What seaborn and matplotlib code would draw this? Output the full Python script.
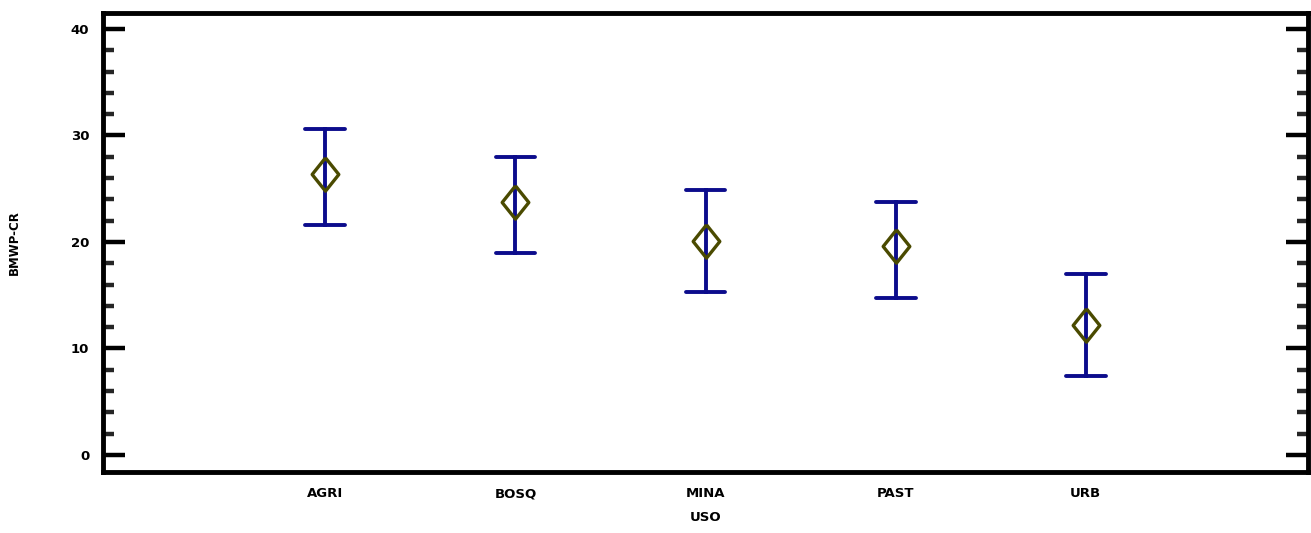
import matplotlib
matplotlib.use("Agg")
import matplotlib.pyplot as plt
import pandas as pd
import seaborn as sns
from matplotlib.ticker import MultipleLocator

sns.set_theme(style="white")
plt.rcParams["font.family"] = ["Liberation Sans Narrow", "DejaVu Sans"]

usos = ["AGRI", "BOSQ", "MINA", "PAST", "URB"]
medias = [26.4, 23.8, 20.1, 19.6, 12.2]
inferior = [21.6, 19.0, 15.3, 14.7, 7.4]
superior = [30.6, 28.0, 24.9, 23.8, 17.0]

# three rows per group: median gives the mean, the 100% interval gives the limits
rows = []
for u, lo, m, hi in zip(usos, inferior, medias, superior):
    for v in (lo, m, hi):
        rows.append({"USO": u, "BMWP-CR": v})
df = pd.DataFrame(rows)

fig = plt.figure(figsize=(13.11, 5.33), dpi=100)
ax = fig.add_axes([0.0786, 0.1144, 0.9191, 0.8612])

blue = "#0c0c8c"
sns.pointplot(data=df, x="USO", y="BMWP-CR", estimator="median", errorbar=("pi", 100),
              color=blue, markers="", linestyles="none", capsize=0.21,
              err_kws={"linewidth": 2.8}, ax=ax)
for line in ax.lines:
    line.set_solid_capstyle("round")

# diamond a bit narrower than tall
diamante = [(0, 1), (0.8, 0), (0, -1), (-0.8, 0), (0, 1)]
sns.pointplot(data=df, x="USO", y="BMWP-CR", estimator="median", errorbar=None,
              color="#4a4a00", markers=diamante, linestyles="none",
              markersize=24, markerfacecolor="none", markeredgewidth=2.4, ax=ax)

ax.set_xlim(-1.17, 5.17)
ax.set_ylim(-1.6, 41.5)
ax.yaxis.set_major_locator(MultipleLocator(10))
ax.yaxis.set_minor_locator(MultipleLocator(2))

for s in ax.spines.values():
    s.set_linewidth(3.5)
    s.set_color("black")

ax.tick_params(axis="y", which="major", direction="in", length=16, width=3.2,
               left=True, right=True, labelsize=9.5, pad=10, colors="black")
ax.tick_params(axis="y", which="minor", direction="in", length=8, width=3.2,
               left=True, right=True)
ax.tick_params(axis="x", bottom=False, labelsize=9.5, pad=5, labelcolor="black")
for t in ax.get_xticklabels() + ax.get_yticklabels():
    t.set_fontweight("bold")

ax.set_xlabel("USO", fontsize=9.5, fontweight="bold", labelpad=8, color="black")
ax.set_ylabel("BMWP-CR", fontsize=8.5, fontweight="bold", labelpad=36, color="black")

fig.savefig("out.png", dpi=100)
